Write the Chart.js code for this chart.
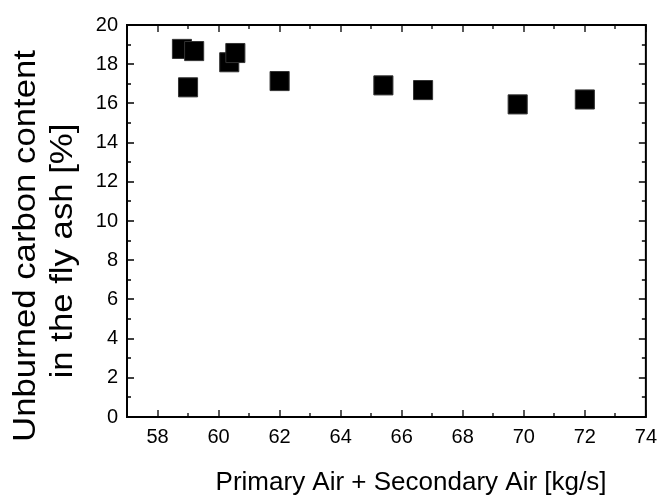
<!DOCTYPE html>
<html>
<head>
<meta charset="utf-8">
<script src="https://cdn.jsdelivr.net/npm/chart.js@4/dist/chart.umd.min.js"></script>
<style>
  html, body { margin: 0; padding: 0; background: #fff; }
  #wrap { width: 665px; height: 497px; }
</style>
</head>
<body>
<div id="wrap"><canvas id="c" width="665" height="497"></canvas></div>
<script>
// ---- data ----
const airFlow = [58.8, 59.2, 59.0, 60.35, 60.55, 62.0, 65.4, 66.7, 69.8, 72.0];   // kg/s
const unburnedCarbon = [18.78, 18.67, 16.82, 18.1, 18.57, 17.14, 16.92, 16.68, 15.95, 16.2]; // %
const xTickValues = [58, 60, 62, 64, 66, 68, 70, 72, 74];
const yTickValues = [0, 2, 4, 6, 8, 10, 12, 14, 16, 18, 20];
const xTitle = 'Primary Air + Secondary Air [kg/s]';
const yTitle = ['Unburned carbon content', 'in the fly ash [%]'];

const points = airFlow.map((x, i) => ({ x: x, y: unburnedCarbon[i] }));

const FONT = "'Liberation Sans', Arial, sans-serif";

// frame + inward major/minor ticks on all four sides, positioned through the scales
const framePlugin = {
  id: 'frame',
  afterDraw(chart) {
    const { ctx, chartArea: a, scales } = chart;
    const xs = scales.x, ys = scales.y;
    ctx.save();
    ctx.strokeStyle = '#000';
    ctx.lineWidth = 2;
    ctx.strokeRect(a.left, a.top, a.right - a.left, a.bottom - a.top);
    ctx.lineWidth = 1.3;
    const major = 7, minor = 4;
    ctx.beginPath();
    for (let v = Math.ceil(xs.min); v <= xs.max; v += 1) {
      const px = Math.round(xs.getPixelForValue(v));
      const len = (v % 2 === 0) ? major : minor;
      ctx.moveTo(px, a.bottom); ctx.lineTo(px, a.bottom - len);
      ctx.moveTo(px, a.top); ctx.lineTo(px, a.top + len);
    }
    for (let v = Math.ceil(ys.min); v <= ys.max; v += 1) {
      const py = Math.round(ys.getPixelForValue(v));
      const len = (v % 2 === 0) ? major : minor;
      ctx.moveTo(a.left, py); ctx.lineTo(a.left + len, py);
      ctx.moveTo(a.right, py); ctx.lineTo(a.right - len, py);
    }
    ctx.stroke();

    // axis titles (real text)
    ctx.fillStyle = '#000';
    ctx.textBaseline = 'alphabetic';
    ctx.textAlign = 'center';
    ctx.font = "26px " + FONT;
    ctx.fillText(xTitle, 411, 490);

    ctx.font = "31px " + FONT;
    const lines = [
      { text: yTitle[0], x: 35, y: 246 },
      { text: yTitle[1], x: 72, y: 251 }
    ];
    lines.forEach(l => {
      ctx.save();
      ctx.translate(l.x, l.y);
      ctx.rotate(-Math.PI / 2);
      ctx.scale(1.12, 1);
      ctx.fillText(l.text, 0, 0);
      ctx.restore();
    });
    ctx.restore();
  }
};

new Chart(document.getElementById('c'), {
  type: 'scatter',
  data: {
    datasets: [{
      data: points,
      pointStyle: 'rect',
      pointRadius: 13.5,
      pointHoverRadius: 13.5,
      backgroundColor: '#000',
      borderColor: '#333',
      borderWidth: 1
    }]
  },
  options: {
    responsive: false,
    animation: false,
    events: [],
    layout: { padding: { left: 0, top: 25, right: 16, bottom: 0 } },
    plugins: { legend: { display: false }, tooltip: { enabled: false } },
    scales: {
      x: {
        type: 'linear',
        min: 57, max: 74,
        afterBuildTicks(s) { s.ticks = xTickValues.map(v => ({ value: v })); },
        afterFit(s) { s.height = 80; },
        grid: { display: false, drawTicks: false },
        border: { display: false },
        ticks: { color: '#000', font: { family: FONT, size: 20 }, padding: 8, maxRotation: 0, autoSkip: false },
        title: { display: false }
      },
      y: {
        type: 'linear',
        min: 0, max: 20,
        afterBuildTicks(s) { s.ticks = yTickValues.map(v => ({ value: v })); },
        afterFit(s) { s.width = 127; },
        grid: { display: false, drawTicks: false },
        border: { display: false },
        ticks: { color: '#000', font: { family: FONT, size: 20 }, padding: 9, autoSkip: false },
        title: { display: false }
      }
    }
  },
  plugins: [framePlugin]
});
</script>
</body>
</html>
